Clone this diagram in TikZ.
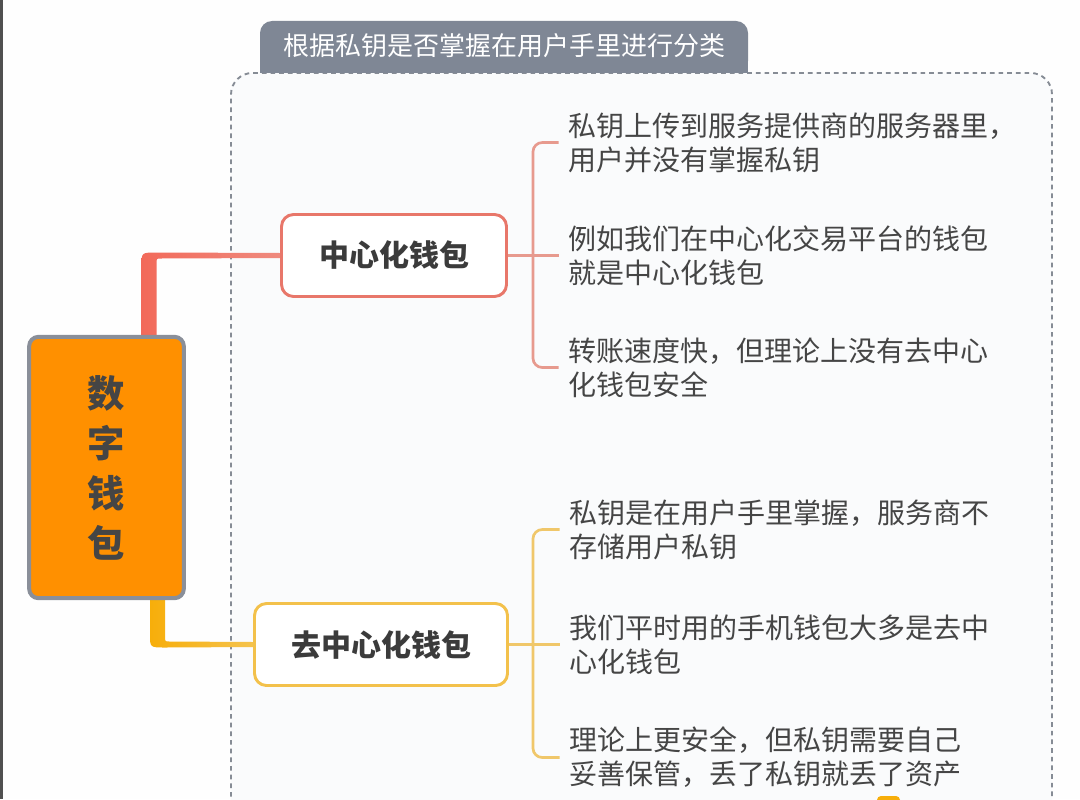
\documentclass[tikz,border=0pt]{standalone}
\usepackage{fontspec}
\newfontfamily\cjk{Noto Sans CJK SC}
\usepackage{tikz}
\usetikzlibrary{positioning, calc, backgrounds}

\definecolor{pagebg}{HTML}{FEFEFE}
\definecolor{framebg}{HTML}{FAFBFC}
\definecolor{framec}{HTML}{868C95}
\definecolor{edgec}{HTML}{505050}
\definecolor{tabc}{HTML}{7F8795}
\definecolor{rootfill}{HTML}{FF9000}
\definecolor{rootline}{HTML}{8A8F99}
\definecolor{textc}{HTML}{454545}
\definecolor{boxtext}{HTML}{3B3B3B}
\definecolor{cline}{HTML}{E8776A}
\definecolor{cbrc}{HTML}{E79A8E}
\definecolor{cthick}{HTML}{F26A5A}
\definecolor{cthin}{HTML}{EF8A7E}
\definecolor{dline}{HTML}{F3C14B}
\definecolor{dbrc}{HTML}{F0C76A}
\definecolor{dthick}{HTML}{F7AE0A}
\definecolor{dthin}{HTML}{F5C34D}

\tikzset{
  rootbox/.style={draw=rootline, fill=rootfill, line width=3pt, rounded corners=7pt,
    minimum width=116pt, minimum height=196pt, align=center, text=textc,
    font=\cjk\bfseries\fontsize{28pt}{37.5pt}\selectfont},
  wbox/.style={fill=white, line width=2.2pt, rounded corners=9pt,
    minimum height=61.5pt, text=boxtext, font=\cjk\bfseries\fontsize{22.5pt}{27pt}\selectfont},
  leaf/.style={anchor=west, align=left, inner sep=0pt, text=textc,
    font=\cjk\fontsize{21pt}{25.5pt}\selectfont},
  cbr/.style={draw=cbrc, line width=2pt},
  dbr/.style={draw=dbrc, line width=2pt},
  frame/.style={draw=framec, line width=1.4pt, dash pattern=on 3.5pt off 3pt},
}

\begin{document}
\begin{tikzpicture}[x=0.75pt, y=-0.75pt]
\useasboundingbox (0,0) rectangle (1080,799);

% background, frame and tab
\begin{scope}[on background layer]
  \clip (0,0) rectangle (1080,799);
  \fill[pagebg] (0,0) rectangle (1080,799);
  \fill[edgec] (0,0) rectangle (2.5,799);
  \fill[framebg, rounded corners=16pt] (231,840) -- (231,73) -- (1052,73) -- (1052,840) -- cycle;
  \draw[frame, rounded corners=16pt] (231,840) -- (231,73) -- (1052,73) -- (1052,840);
  \fill[tabc, rounded corners=9pt] (260,21) rectangle (748,73);
  \fill[tabc] (260,50) rectangle (748,73);
  \fill[dthick, rounded corners=3pt] (877,796) rectangle (900,812);
\end{scope}

\node[text=white, font=\cjk\fontsize{19.5pt}{23pt}\selectfont] (tab) at (504,46) {根据私钥是否掌握在用户手里进行分类};

\node[rootbox] (root) at (106.5,467.5) {数\\字\\钱\\包};
\node[wbox, draw=cline, minimum width=168.75pt] (c) at (394,255.5) {中心化钱包};
\node[wbox, draw=dline, minimum width=189.75pt] (d) at (381,644.5) {去中心化钱包};

\node[leaf, right=45pt of c] (c2) {例如我们在中心化交易平台的钱包\\就是中心化钱包};
\node[leaf] (c1) at ($(c2.west)+(0,-113)$) {私钥上传到服务提供商的服务器里，\\用户并没有掌握私钥};
\node[leaf] (c3) at ($(c2.west)+(0,112)$) {转账速度快，但理论上没有去中心\\化钱包安全};

\node[leaf, right=45pt of d] (d2) {我们平时用的手机钱包大多是去中\\心化钱包};
\node[leaf] (d1) at ($(d2.west)+(0,-115)$) {私钥是在用户手里掌握，服务商不\\存储用户私钥};
\node[leaf] (d3) at ($(d2.west)+(0,113)$) {理论上更安全，但私钥需要自己\\妥善保管，丢了私钥就丢了资产};

% connectors
\begin{scope}[on background layer]
  \coordinate (a) at ($(root.north)+(42.5,0)$);
  \coordinate (b) at (a |- c.west);
  \shade[left color=cthick, right color=cthin]
    ($(a)+(-7.5,0)$) -- ($(b)+(-7.5,10)$) .. controls ($(b)+(-7.5,-3)$) .. ($(b)+(8,-3)$)
    -- ($(c.west)+(0,-2.5)$) -- ($(c.west)+(0,2.5)$)
    -- ($(b)+(12,3)$) .. controls ($(b)+(7.5,3)$) .. ($(b)+(7.5,8)$) -- ($(a)+(7.5,0)$) -- cycle;
  \coordinate (a2) at ($(root.south)+(51,0)$);
  \coordinate (b2) at (a2 |- d.west);
  \shade[left color=dthick, right color=dthin]
    ($(a2)+(-7.5,0)$) -- ($(b2)+(-7.5,-10)$) .. controls ($(b2)+(-7.5,3)$) .. ($(b2)+(8,3)$)
    -- ($(d.west)+(0,2.5)$) -- ($(d.west)+(0,-2.5)$)
    -- ($(b2)+(12,-3)$) .. controls ($(b2)+(7.5,-3)$) .. ($(b2)+(7.5,-8)$) -- ($(a2)+(7.5,0)$) -- cycle;
\end{scope}

\coordinate (cb) at ($(c.east)+(25,0)$);
\draw[cbr, rounded corners=7pt] ([xshift=-7pt]c1.west) -| (cb) |- ([xshift=-7pt]c3.west);
\draw[cbr] (c.east) -- ([xshift=-7pt]c2.west);

\coordinate (db) at ($(d.east)+(24,0)$);
\draw[dbr, rounded corners=7pt] ([xshift=-7pt]d1.west) -| (db) |- ([xshift=-7pt]d3.west);
\draw[dbr] (d.east) -- ([xshift=-7pt]d2.west);
\end{tikzpicture}
\end{document}
